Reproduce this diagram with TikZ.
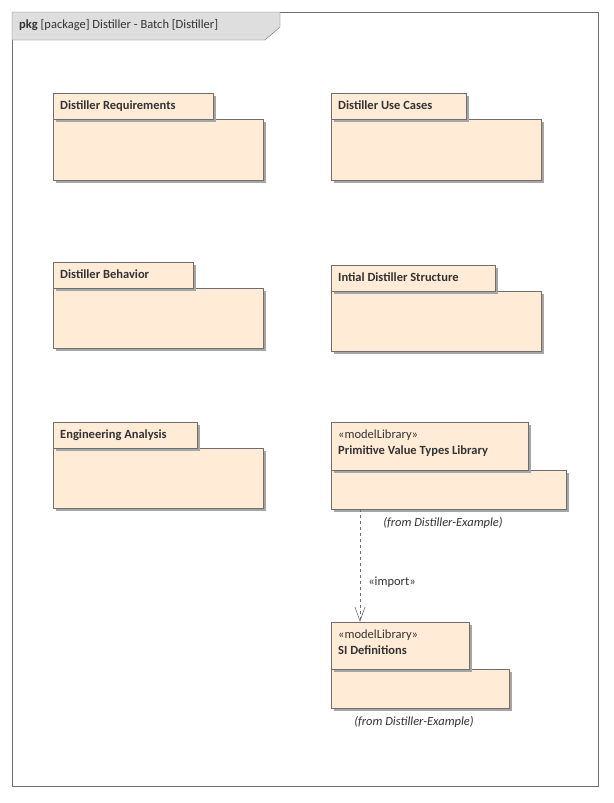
\documentclass[tikz,border=0pt]{standalone}
\usepackage{fontspec}
\setmainfont{Carlito}
\usetikzlibrary{shadows,arrows.meta}
\definecolor{pkgfill}{HTML}{FFEBD6}
\definecolor{pkgline}{HTML}{6E6E6E}
\definecolor{pkgtext}{HTML}{333333}
\tikzset{
  pkgbox/.style={draw=pkgline, fill=pkgfill, anchor=north west, inner sep=0pt,
    drop shadow={shadow xshift=2.5pt, shadow yshift=-2.5pt, fill=black!35, opacity=1}},
  pkgtab/.style={pkgbox, align=left, text depth=0pt},
  fromlbl/.style={font=\fontsize{12.5}{14}\selectfont\itshape, text=pkgtext},
}
% \pkgnode{name}{x}{y}{tab width}{tab height}{body width}{body height}{label}
\newcommand{\pkgnode}[8]{%
  \node[pkgbox, minimum width=#6pt, minimum height=#7pt] (#1body) at (#2,#3+#5) {};
  \node[pkgtab, minimum width=#4pt, minimum height=#5pt] (#1tab) at (#2,#3) {};
  \node[anchor=north west, align=left, inner sep=0pt, text=pkgtext, font=\fontsize{12.5}{16.5}\selectfont] (#1lbl) at (#2+7,#3+7.5) {#8};
}
\begin{document}
\begin{tikzpicture}[x=1pt, y=-1pt]
  \useasboundingbox (0,0) rectangle (613,803);

  % outer frame and heading
  \draw[pkgline, fill=white] (12,12) rectangle (598,786);
  \draw[pkgline, fill=black!13] (12,12) -- (280,12) -- (280,27) -- (265,40) -- (12,40) -- cycle;
  \node[anchor=west, inner sep=0pt, text=pkgtext, font=\fontsize{12.5}{14}\selectfont] (title) at (19,25)
    {\textbf{pkg} [package] Distiller - Batch [Distiller]};

  % packages
  \pkgnode{req}{53}{93}{160}{26}{210}{61}{\textbf{Distiller Requirements}}
  \pkgnode{uc}{331}{93}{135}{26}{210}{61}{\textbf{Distiller Use Cases}}
  \pkgnode{beh}{53}{262}{140}{26}{210}{60}{\textbf{Distiller Behavior}}
  \pkgnode{str}{331}{265}{164}{26}{210}{60}{\textbf{Intial Distiller Structure}}
  \pkgnode{eng}{53}{422}{144}{26}{210}{60}{\textbf{Engineering Analysis}}
  \pkgnode{prim}{331}{422}{197}{48}{235}{39}{«modelLibrary»\\\textbf{Primitive Value Types Library}}
  \pkgnode{si}{331}{622}{138}{47}{178}{39}{«modelLibrary»\\\textbf{SI Definitions}}

  \node[fromlbl] (primfrom) at (443,523) {(from Distiller-Example)};
  \node[fromlbl] (sifrom) at (414,722) {(from Distiller-Example)};

  % import dependency
  \coordinate (impfrom) at (360,509);
  \coordinate (impto) at (360,622);
  \draw[pkgline, dashed, -{Straight Barb[length=14pt, width=10pt, line width=0.6pt]}] (impfrom) -- (impto);
  \node[font=\fontsize{12.5}{14}\selectfont, text=pkgtext] (implbl) at (392,582) {«import»};

\end{tikzpicture}
\end{document}
